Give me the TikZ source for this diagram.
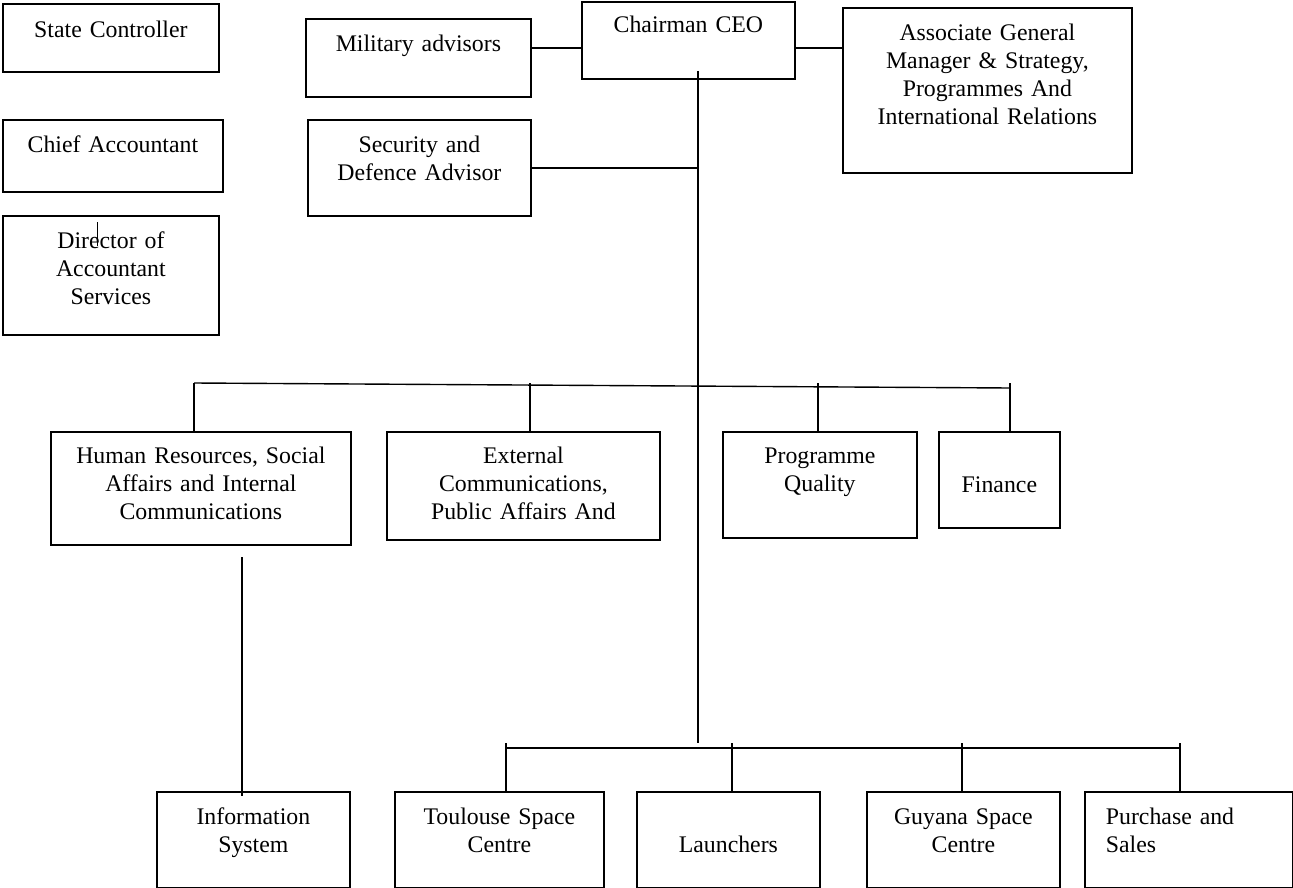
\documentclass[tikz,border=0pt]{standalone}
\usepackage{fontspec}
\setmainfont{Liberation Serif}
\usetikzlibrary{positioning}

\begin{document}
\begin{tikzpicture}[x=1pt, y=-1pt,
    orgbox/.style={draw, line width=1.8pt, inner sep=0pt, anchor=north west, align=center, font=\fontsize{23.8}{28}\selectfont},
    boxdim/.style n args={4}{minimum width=#1pt, text width=#1pt, minimum height=#2pt, text height=#3pt, text depth=#4pt},
    link/.style={line width=1.4pt}
]
\useasboundingbox (0,0) rectangle (1293,888);

% left column
\node[orgbox, boxdim={216}{68}{34}{34}] (state) at (2,3) {State Controller};
\node[orgbox, boxdim={220}{72}{33}{39}] (chief) at (2,119) {Chief Accountant};
\node[orgbox, boxdim={216}{119}{33}{86}] (dir) at (2,215) {Director of\\Accountant\\Services};

% top row
\node[orgbox, boxdim={225}{78}{33}{45}] (mil) at (305,18) {Military advisors};
\node[orgbox, boxdim={213}{77}{31}{46}] (ceo) at (581,1) {Chairman CEO};
\node[orgbox, boxdim={289}{165}{33}{132}] (assoc) at (842,7) {Associate General\\Manager \& Strategy,\\Programmes And\\International Relations};
\node[orgbox, boxdim={223}{96}{33}{63}] (sec) at (307,119) {Security and\\Defence Advisor};

% middle row
\node[orgbox, boxdim={300}{113}{32}{81}] (hr) at (50,431) {Human Resources, Social\\Affairs and Internal\\Communications};
\node[orgbox, boxdim={273}{108}{32}{76}] (ext) at (386,431) {External\\Communications,\\Public Affairs And};
\node[orgbox, boxdim={194}{106}{32}{74}] (prog) at (722,431) {Programme\\Quality};
\node[orgbox, boxdim={121}{96}{61}{35}] (fin) at (938,431) {Finance};

% bottom row
\node[orgbox, boxdim={193}{96}{33}{63}] (info) at (156,791) {Information\\System};
\node[orgbox, boxdim={209}{96}{33}{63}] (tls) at (394,791) {Toulouse Space\\Centre};
\node[orgbox, boxdim={183}{96}{61}{35}] (lau) at (636,791) {Launchers};
\node[orgbox, boxdim={193}{96}{33}{63}] (guy) at (866,791) {Guyana Space\\Centre};
\node[orgbox, boxdim={208}{96}{33}{63}, text width=166pt, inner xsep=21pt, align=left] (pur) at (1084,791) {Purchase and\\Sales};

% joints
\coordinate (spinetop) at (698,71);
\coordinate (spinebot) at (698,743);
\coordinate (barL) at (194,383);
\coordinate (barR) at (1010,388);
\coordinate (exttap) at (530,383);
\coordinate (progtap) at (818,383);
\coordinate (isup) at (242,557);
\coordinate (lowL) at (506,748);
\coordinate (lowR) at (1180,748);
\coordinate (tlstap) at (506,743);
\coordinate (lautap) at (732,743);
\coordinate (guytap) at (962,743);
\coordinate (purtap) at (1180,743);
\coordinate (dirtick) at (97,222);

\draw[link] ([yshift=10pt]mil.east) -- ([yshift=-7.5pt]ceo.west);
\draw[link] ([yshift=-7.5pt]ceo.east) -- ([yshift=42.5pt]assoc.west);
\draw[link] (spinetop) -- (spinebot);
\draw[link] (sec.east) -- (sec.east -| spinetop);

\draw[link] (barL) -- (barR);
\draw[link] (barL) -- (barL |- hr.north);
\draw[link] (exttap) -- (exttap |- ext.north);
\draw[link] (progtap) -- (progtap |- prog.north);
\draw[link] ([yshift=5pt]barR) -- (barR |- fin.north);

\draw[link] (isup) -- ([yshift=-5pt]isup |- info.north);

\draw[link] (lowL) -- (lowR);
\draw[link] (tlstap) -- (tlstap |- tls.north);
\draw[link] (lautap) -- (lautap |- lau.north);
\draw[link] (guytap) -- (guytap |- guy.north);
\draw[link] (purtap) -- (purtap |- pur.north);

\draw[line width=1pt] (dirtick) -- ++(0,24);

\end{tikzpicture}
\end{document}
